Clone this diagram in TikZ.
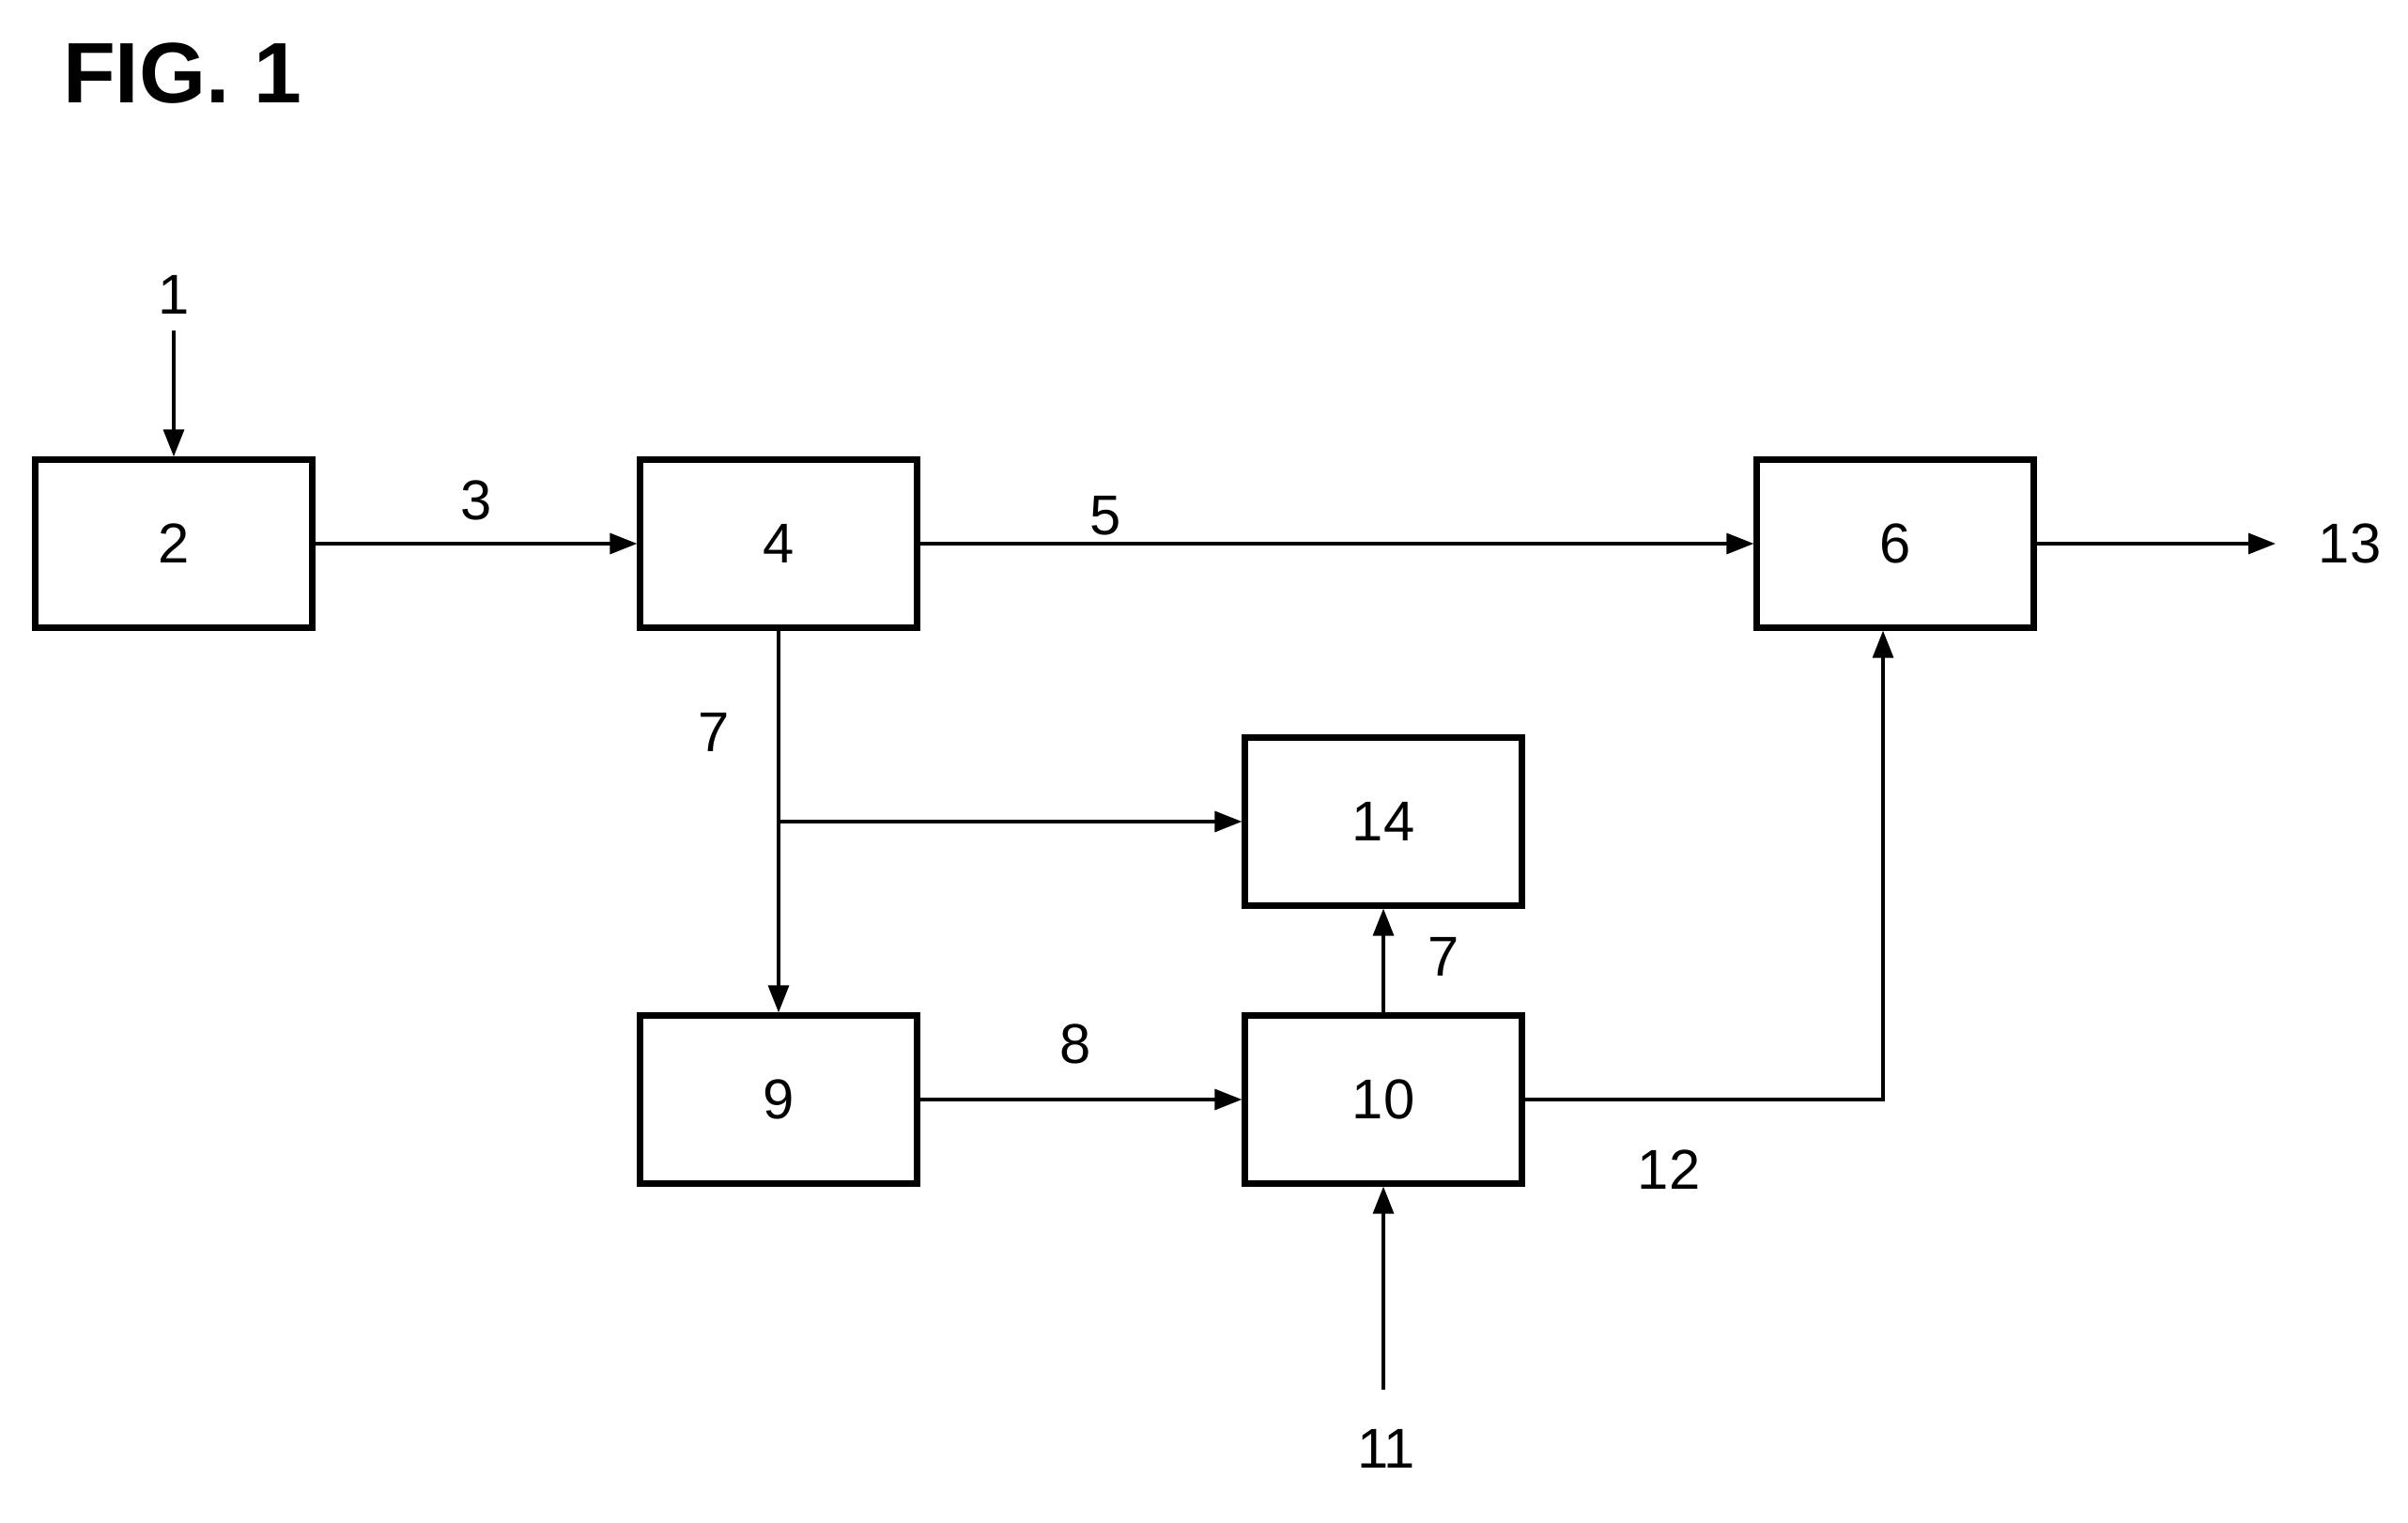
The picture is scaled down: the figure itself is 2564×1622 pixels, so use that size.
\documentclass[tikz,border=0pt]{standalone}
\usepackage{fontspec}
\setmainfont{Liberation Sans}
\usetikzlibrary{arrows.meta}

\begin{document}
\begin{tikzpicture}[x=0.1mm, y=-0.1mm,
		unit/.style = {draw, line width = 1.8pt, minimum width = 29.5mm, minimum height = 17.9mm, inner sep = 0pt, font = \fontsize{17}{18}\selectfont},
		num/.style = {inner sep = 0pt, font = \fontsize{17}{18}\selectfont},
		flow/.style = {line width = 0.95pt, -{Triangle[length = 2.9mm, width = 2.2mm]}}]
		\useasboundingbox (0,0) rectangle (2564,1622);
		\node[font = \fontsize{26}{28}\selectfont\bfseries, inner sep = 0pt] (fig) at (194,78) {FIG. 1};
		
		\node[unit] (U2) at (185,579) {2};
		\node[unit] (U4) at (829,579) {4};
		\node[unit] (U6) at (2018,579) {6};
		\node[unit] (U14) at (1473,875) {14};
		\node[unit] (U9) at (829,1171) {9};
		\node[unit] (U10) at (1473,1171) {10};
		
		\node[num] (L1) at (185,314) {1};
		\node[num] (L3) at (507,533) {3};
		\node[num] (L5) at (1177,549) {5};
		\node[num] (L13) at (2502,579) {13};
		\node[num] (L7a) at (760,780) {7};
		\node[num] (L7b) at (1537,1019) {7};
		\node[num] (L8) at (1145,1112) {8};
		\node[num] (L12) at (1777,1246) {12};
		\node[num] (L11) at (1476,1543) {11};
		
		\coordinate (S1) at (185,352);
		\coordinate (E13) at (2423,579);
		\coordinate (S11) at (1473,1480);
		\coordinate (J7) at (829,875);
		\coordinate (K12) at (2005,1171);
		
		\draw[flow] (S1) -- (U2);
		\draw[flow] (U2) -- (U4);
		\draw[flow] (U4) -- (U6);
		\draw[flow] (U6) -- (E13);
		\draw[flow] (U4) -- (U9);
		\draw[flow] (J7) -- (U14);
		\draw[flow] (U9) -- (U10);
		\draw[flow] (U10) -- (U14);
		\draw[flow] (U10) -- (K12) -- (U6.south -| K12);
		\draw[flow] (S11) -- (U10);
	\end{tikzpicture}
\end{document}
